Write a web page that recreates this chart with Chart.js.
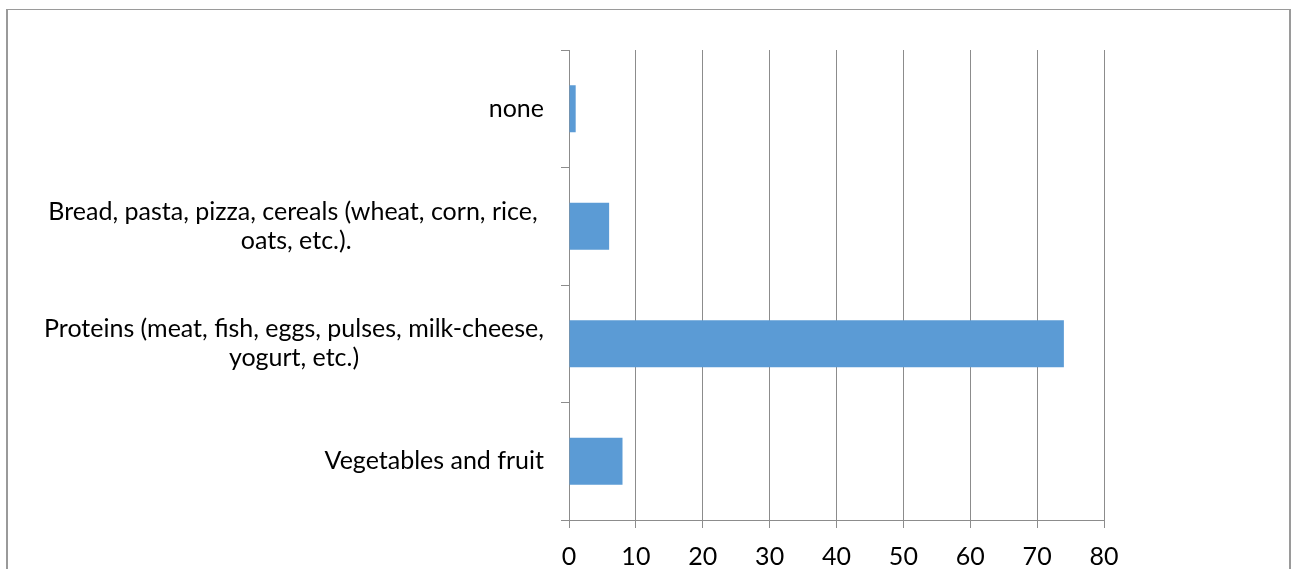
<!DOCTYPE html>
<html>
<head>
<meta charset="utf-8">
<script src="https://cdn.jsdelivr.net/npm/chart.js@4/dist/chart.umd.min.js"></script>
<style>
  html, body { margin: 0; padding: 0; background: #fff; overflow: hidden; }
  canvas { display: block; }
</style>
</head>
<body>
<canvas id="graphe" width="1293" height="569"></canvas>
<script>
// Food groups, top to bottom, one array of lines per label
const categories = [
  ["none"],
  ["Bread, pasta, pizza, cereals (wheat, corn, rice, ", "oats, etc.)."],
  ["Proteins (meat, fish, eggs, pulses, milk-cheese,", "yogurt, etc.)"],
  ["Vegetables and fruit"],
];
const values = [1, 6, 74, 8];
const xMin = 0;
const xMax = 80;
const xStep = 10;

const FONT = "Lato";
const TAILLE = 25;
const GRIS = "#8c8c8c";

// white page + grey frame around the chart
const cadre = {
  id: "cadre",
  beforeDraw(chart) {
    const c = chart.ctx;
    c.save();
    c.fillStyle = "#fff";
    c.fillRect(0, 0, chart.width, chart.height);
    c.fillStyle = "#9a9a9a";
    c.fillRect(6, 9, 1285, 1);
    c.fillRect(6, 9, 2, 600);
    c.fillRect(1289, 9, 2, 600);
    c.restore();
  },
};

// category labels: block right-aligned next to the axis, lines centred inside it
const etiquettes = {
  id: "etiquettes",
  afterDraw(chart) {
    const c = chart.ctx;
    const y = chart.scales.y;
    const droite = 544;
    const interligne = 29;
    c.save();
    c.font = `${TAILLE}px ${FONT}`;
    c.fillStyle = "#000";
    c.textBaseline = "middle";
    c.textAlign = "center";
    categories.forEach((lignes, i) => {
      const largeur = Math.max(...lignes.map((l) => c.measureText(l).width));
      const cx = droite - largeur / 2;
      const cy = y.getPixelForTick(i);
      lignes.forEach((l, k) => {
        const dy = (k - (lignes.length - 1) / 2) * interligne;
        c.fillText(l, cx, cy + dy);
      });
    });
    c.restore();
  },
};

new Chart(document.getElementById("graphe"), {
  type: "bar",
  data: {
    labels: categories,
    datasets: [{
      data: values,
      backgroundColor: "#5b9bd5",
      barPercentage: 0.4,
      categoryPercentage: 1.0,
    }],
  },
  options: {
    indexAxis: "y",
    responsive: false,
    animation: false,
    layout: { padding: { left: 0, top: 50, right: 189, bottom: 0 } },
    plugins: { legend: { display: false }, tooltip: { enabled: false } },
    scales: {
      x: {
        min: xMin,
        max: xMax,
        ticks: {
          stepSize: xStep,
          color: "#000",
          padding: 14,
          font: { family: FONT, size: TAILLE },
        },
        grid: { color: GRIS, tickLength: 8 },
        border: { color: GRIS },
        afterFit(scale) { scale.height = 49; },
      },
      y: {
        ticks: { display: false },
        grid: { color: GRIS, drawOnChartArea: false, tickLength: 8 },
        border: { color: GRIS },
        afterFit(scale) { scale.width = 569; },
      },
    },
  },
  plugins: [cadre, etiquettes],
});
</script>
</body>
</html>
